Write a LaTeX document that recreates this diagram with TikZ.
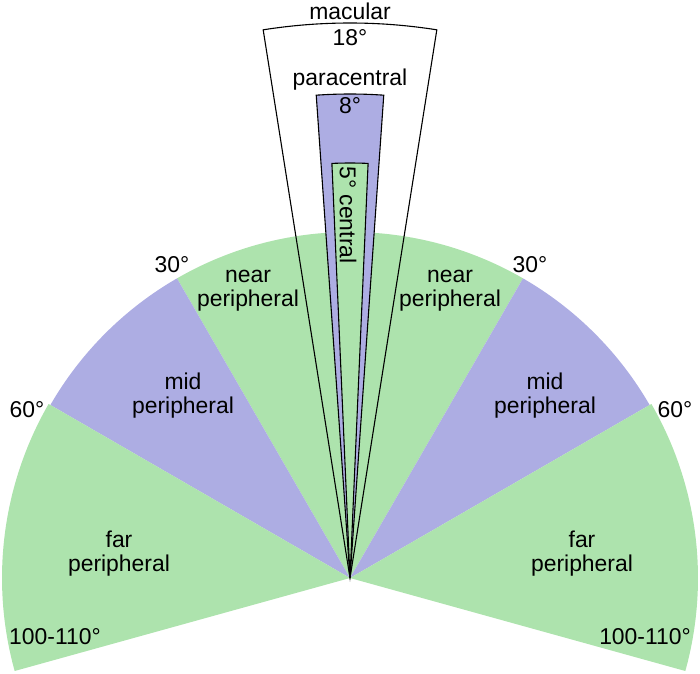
\documentclass[tikz,border=0pt]{standalone}
\usepackage{fontspec}
\setmainfont{Liberation Sans}
\definecolor{vgreen}{RGB}{173,227,173}
\definecolor{vpurple}{RGB}{173,173,227}
\begin{document}
\begin{tikzpicture}[x=1pt,y=1pt,
  lab/.style={font=\fontsize{22.9}{24}\selectfont, align=center, inner sep=0pt},
  edge/.style={draw=black, line width=1.1pt, line join=miter}]
\useasboundingbox (-350,-95) rectangle (350,578);
\coordinate (C) at (0,0);
% outer sectors
\fill[vgreen] (C) -- (60:346) arc[start angle=60, end angle=120, radius=346] -- cycle;
\fill[vpurple] (C) -- (120:346) arc[start angle=120, end angle=150, radius=346] -- cycle;
\fill[vpurple] (C) -- (30:346) arc[start angle=30, end angle=60, radius=346] -- cycle;
\fill[vgreen] (C) -- (150:348) arc[start angle=150, end angle=195.5, radius=348] -- cycle;
\fill[vgreen] (C) -- (-15.5:348) arc[start angle=-15.5, end angle=30, radius=348] -- cycle;
% macular
\draw[edge] (C) -- (81:555) arc[start angle=81, end angle=99, radius=555] -- cycle;
% paracentral
\filldraw[edge, fill=vpurple] (C) -- (86:484) arc[start angle=86, end angle=94, radius=484] -- cycle;
% central
\filldraw[edge, fill=vgreen] (C) -- (87.5:415) arc[start angle=87.5, end angle=92.5, radius=415] -- cycle;
% labels
\node[lab] (mac) at (0,567) {macular};
\node[lab] (mac18) at (0,540) {18°};
\node[lab] (para) at (0,498) {paracentral};
\node[lab] (para8) at (0,472) {8°};
\node[lab, rotate=-90] (cent) at (-2,363) {5° central};
\node[lab] (nearL) at (-102,287) {near\\peripheral};
\node[lab] (nearR) at (100,287) {near\\peripheral};
\node[lab] (d30L) at (-178,313) {30°};
\node[lab] (d30R) at (180,313) {30°};
\node[lab] (midL) at (-167,182) {mid\\peripheral};
\node[lab] (midR) at (195,182) {mid\\peripheral};
\node[lab] (d60L) at (-323,168) {60°};
\node[lab] (d60R) at (325,168) {60°};
\node[lab] (farL) at (-231,24) {far\\peripheral};
\node[lab] (farR) at (232,24) {far\\peripheral};
\node[lab] (d100L) at (-295,-59) {100-110°};
\node[lab] (d100R) at (295,-59) {100-110°};
\end{tikzpicture}
\end{document}
